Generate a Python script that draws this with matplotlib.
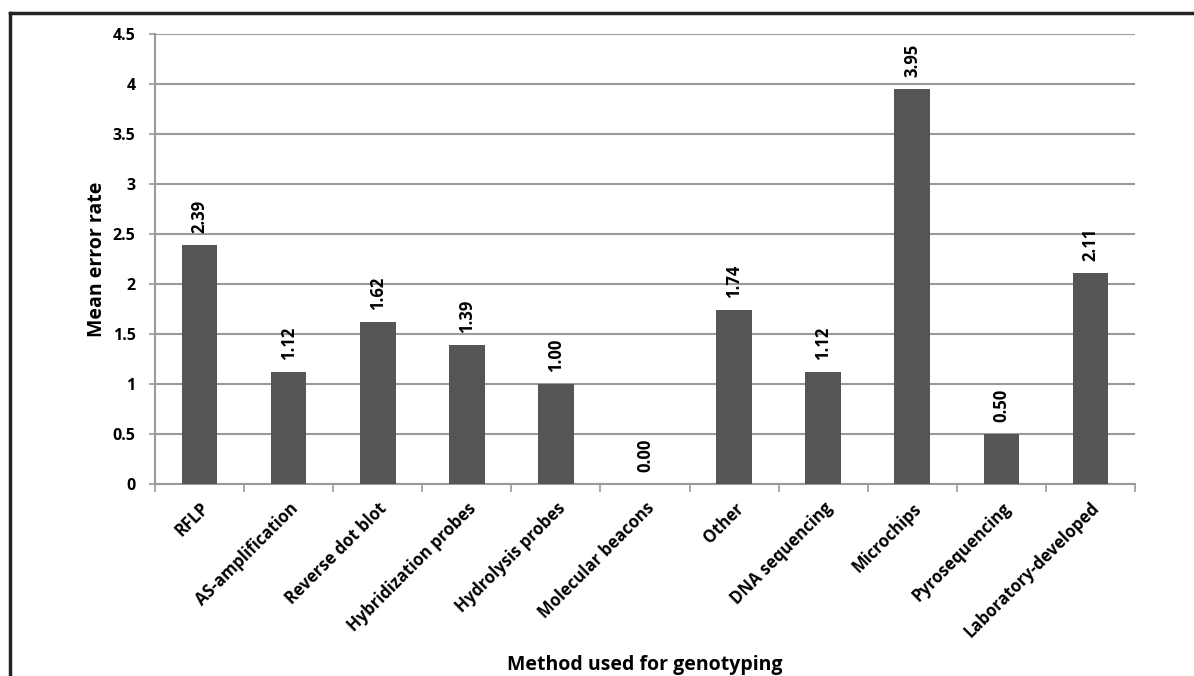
import numpy as np
import matplotlib
matplotlib.use("Agg")
import matplotlib.pyplot as plt
from matplotlib.lines import Line2D

methods = ["RFLP", "AS-amplification", "Reverse dot blot", "Hybridization probes",
           "Hydrolysis probes", "Molecular beacons", "Other", "DNA sequencing",
           "Microchips", "Pyrosequencing", "Laboratory-developed"]
error_rate = [2.39, 1.12, 1.62, 1.39, 1.00, 0.00, 1.74, 1.12, 3.95, 0.50, 2.11]
yticks = [0, 0.5, 1, 1.5, 2, 2.5, 3, 3.5, 4, 4.5]

plt.rcParams["font.family"] = ["Open Sans", "DejaVu Sans"]
plt.rcParams["font.weight"] = "bold"

fig = plt.figure(figsize=(11.94, 6.76), dpi=100)
ax = fig.add_axes([0.1298, 0.284, 0.8208, 0.6657])

x = np.arange(len(methods))
ax.bar(x, error_rate, width=0.4, color="#555555", zorder=3)
for xi, v in zip(x, error_rate):
    ax.annotate("%.2f" % v, (xi, v), xytext=(0, 9), textcoords="offset points",
                rotation=90, ha="center", va="bottom", fontsize=12, fontweight="bold")

ax.set_xlim(-0.5, len(methods) - 0.5)
ax.set_ylim(0, 4.5)
ax.set_yticks(yticks)
ax.set_yticklabels(["0", "0.5", "1", "1.5", "2", "2.5", "3", "3.5", "4", "4.5"],
                   fontsize=11.5, fontweight="bold")
ax.yaxis.grid(True, color="#9a9a9a", linewidth=1.5, zorder=0)
ax.tick_params(axis="y", length=4, color="#9a9a9a", width=1.2, pad=10)

# category labels at bar centres, tick marks at category boundaries
ax.set_xticks(x)
ax.set_xticklabels(methods, rotation=45, ha="right", rotation_mode="anchor",
                   fontsize=12, fontweight="bold")
ax.tick_params(axis="x", length=0, pad=11)
ax.set_xticks(np.arange(len(methods) + 1) - 0.5, minor=True)
ax.tick_params(axis="x", which="minor", length=6, color="#9a9a9a", width=1.2)

for side in ["top", "right"]:
    ax.spines[side].set_visible(False)
for side in ["left", "bottom"]:
    ax.spines[side].set_color("#9a9a9a")
    ax.spines[side].set_linewidth(1.5)

ax.set_ylabel("Mean error rate", fontsize=14, fontweight="bold", labelpad=4)
fig.text(0.54, 1 / 676, "Method used for genotyping", ha="center", va="bottom",
         fontsize=14, fontweight="bold")

# outer frame: top and left edges
fig.add_artist(Line2D([10 / 1194, 1.0], [1 - 13 / 676, 1 - 13 / 676],
                      transform=fig.transFigure, color="#222222", linewidth=2.5))
fig.add_artist(Line2D([10 / 1194, 10 / 1194], [0, 1 - 13 / 676],
                      transform=fig.transFigure, color="#222222", linewidth=2.5))

fig.savefig("out.png", dpi=100, facecolor="white")
